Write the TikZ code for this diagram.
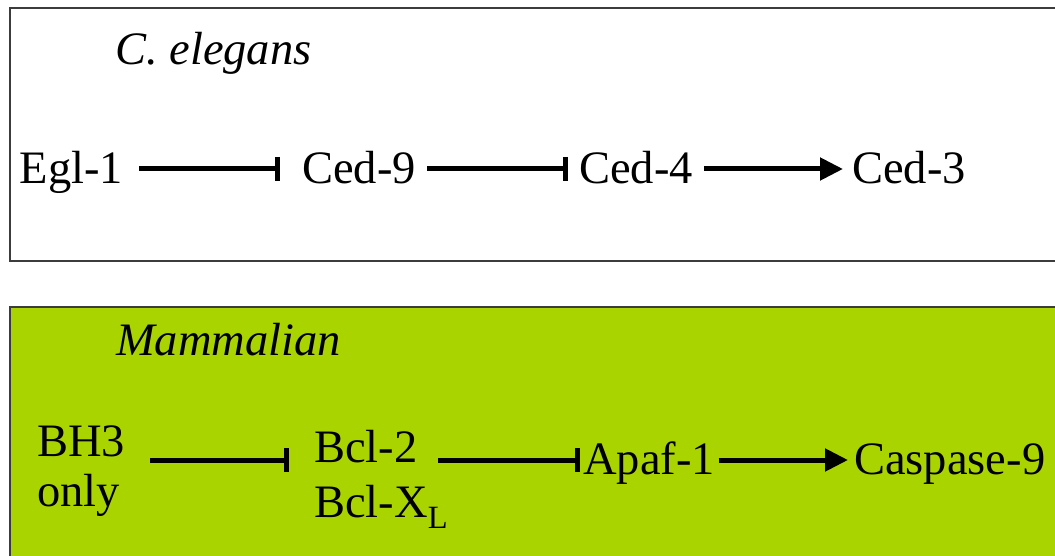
\documentclass[tikz,border=0pt]{standalone}
\usepackage{fontspec}
\setmainfont{Liberation Serif}
\usetikzlibrary{arrows.meta,calc}
\definecolor{boxgreen}{RGB}{170,212,0}
\definecolor{framegray}{RGB}{60,60,60}
\begin{document}
\begin{tikzpicture}[x=1pt,y=-1pt,
  lbl/.style={inner sep=0pt, anchor=base west, font=\fontsize{46.5}{50}\selectfont},
  ttl/.style={inner sep=0pt, anchor=base west, font=\fontsize{46.5}{50}\selectfont\itshape},
  inh/.style={line width=5pt, -{Bar[width=24pt,line width=5pt]}},
  act/.style={line width=5pt, -{Triangle[length=23pt,width=22pt]}},
  panel/.style={draw=framegray, line width=2pt}]
\useasboundingbox (0,0) rectangle (1055,556);
\fill[white] (0,0) rectangle (1055,556);
\draw[panel] (10,8) rectangle (1075,261);
\draw[panel, fill=boxgreen] (10,307) rectangle (1075,575);
% C. elegans
\node[ttl] (title1) at (115,65) {C. elegans};
\node[lbl] (egl) at (19.5,184) {Egl-1};
\node[lbl] (ced9) at (302,184) {Ced-9};
\node[lbl] (ced4) at (579,184) {Ced-4};
\node[lbl] (ced3) at (852,184) {Ced-3};
\coordinate (row1) at (0,169);
\draw[inh] ($(egl.base east |- row1)+(16,0)$) -- ($(ced9.base west |- row1)+(-22,0)$);
\draw[inh] ($(ced9.base east |- row1)+(11.4,0)$) -- ($(ced4.base west |- row1)+(-11,0)$);
\draw[act] ($(ced4.base east |- row1)+(11.4,0)$) -- ($(ced3.base west |- row1)+(-9,0)$);
% Mammalian
\node[ttl] (title2) at (116,355) {Mammalian};
\node[lbl] (bh3) at (37,456) {\vtop{\hbox{BH3}\hbox{only}}};
\node[lbl, font=\fontsize{46.5}{55}\selectfont] (bcl) at (314,462) {\vtop{\hbox{Bcl-2}\hbox{Bcl-X\raisebox{-11pt}{\fontsize{32.5}{33}\selectfont L}}}};
\node[lbl] (apaf) at (583,474) {Apaf-1};
\node[lbl] (casp) at (854,474) {Caspase-9};
\coordinate (row2) at (0,460);
\draw[inh] ($(bh3.base east |- row2)+(25,0)$) -- ($(bcl.base west |- row2)+(-25,0)$);
\draw[inh] ($(bcl.base west |- row2)+(124,0)$) -- ($(apaf.base west |- row2)+(-3,0)$);
\draw[act] ($(apaf.base east |- row2)+(3.5,0)$) -- ($(casp.base west |- row2)+(-6,0)$);
\end{tikzpicture}
\end{document}
